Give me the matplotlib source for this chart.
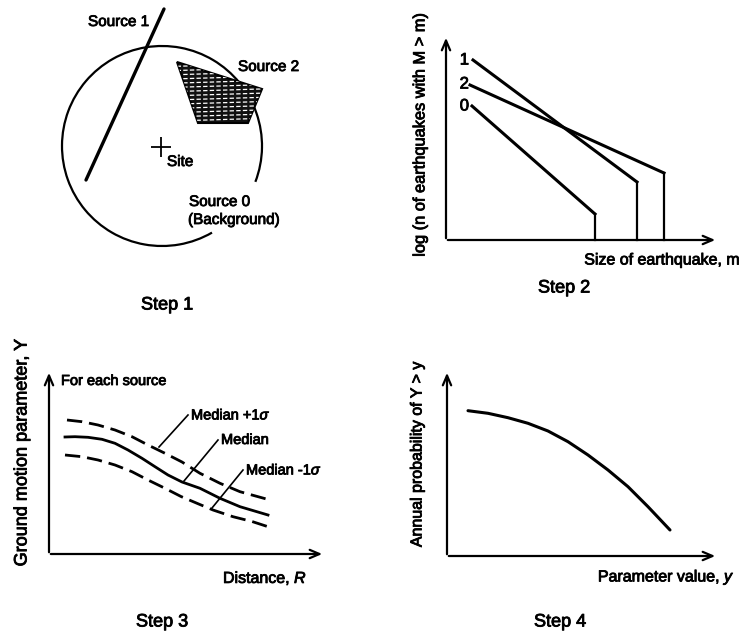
import numpy as np
import matplotlib
matplotlib.use("Agg")
import matplotlib.pyplot as plt
import matplotlib.patheffects as pe
from matplotlib.patches import Arc, Polygon

plt.rcParams['font.family'] = 'Liberation Sans'
plt.rcParams['mathtext.fontset'] = 'custom'
plt.rcParams['mathtext.it'] = 'Liberation Sans:italic'
plt.rcParams['mathtext.rm'] = 'Liberation Sans'

# ---- step 1: sources around the site (picture coordinates) ----
circle_center = (162, 146)
circle_radius = 100
circle_gap = (21, 60)          # degrees, open arc behind the "Source 0" label
source1_x = [164, 86]
source1_y = [9, 180]
source2_x = [177, 262, 248, 198]
source2_y = [62, 89, 123, 123]
site_xy = (161, 147)

# ---- step 2: recurrence lines for each source ----
rec_labels = ['1', '2', '0']
rec_x = [[473, 637, 637], [470, 664, 664], [472, 595, 595]]
rec_y = [[60, 182, 240], [85, 173, 240], [106, 214, 240]]
rec_label_y = [60, 84, 106]

# ---- step 3: attenuation relation ----
med_x = [65, 75, 88, 102, 115, 128, 142, 155, 168, 182, 200, 220, 240, 268]
med_y = [437, 436.7, 437.3, 439.3, 443.3, 450, 458.3, 466.7, 475, 482, 488.3, 498.3, 506.7, 515]
up_x = [67, 82, 98, 115, 132, 148, 165, 182, 200, 220, 240, 270]
up_y = [420, 421.7, 425, 430, 436.7, 445, 453.3, 462, 473.3, 483.3, 491.7, 500]
lo_x = [65, 82, 98, 115, 132, 148, 165, 181, 197, 213, 233, 252, 272]
lo_y = [455, 456.7, 460, 465, 471.7, 480, 488.3, 496.5, 503.3, 510, 516.7, 521.5, 528]
lead_labels = [r'Median +1$\sigma$', 'Median', r'Median -1$\sigma$']
lead_x = [[159, 188], [184, 218], [212, 243]]
lead_y = [[447, 415], [481, 440], [508, 470]]

# ---- step 4: hazard curve ----
haz_x = [468, 488, 508, 528, 548, 568, 588, 608, 628, 648, 670]
haz_y = [410.7, 413.3, 417.7, 423.3, 431, 441.7, 455, 470, 486.7, 506.7, 530]

fig = plt.figure(figsize=(7.41, 6.34), dpi=100)
ax = fig.add_axes([0, 0, 1, 1])
ax.set_xlim(0, 741)
ax.set_ylim(634, 0)
ax.axis('off')

k = 'black'
heavy = [pe.withStroke(linewidth=0.6, foreground='black')]


def label(x, y, s, size=11, **kw):
    kw.setdefault('va', 'center')
    kw.setdefault('ha', 'left')
    ax.text(x, y, s, fontsize=size, path_effects=heavy, **kw)


def axis_arrows(x0, y0, ytop, xright):
    style = '->,head_length=0.7,head_width=0.3'
    ax.annotate('', xy=(x0, ytop), xytext=(x0, y0 + 1),
                arrowprops=dict(arrowstyle=style, color=k, lw=1.6))
    ax.annotate('', xy=(xright, y0), xytext=(x0 - 1, y0),
                arrowprops=dict(arrowstyle=style, color=k, lw=1.6))


# step 1
ax.add_patch(Arc(circle_center, 2 * circle_radius, 2 * circle_radius,
                 theta1=circle_gap[1], theta2=circle_gap[0] + 360, color=k, lw=1.6))
ax.plot(source1_x, source1_y, color=k, lw=2.4, solid_capstyle='round')
poly = Polygon(list(zip(source2_x, source2_y)), closed=True,
               facecolor='#111111', edgecolor=k, lw=1.5)
ax.add_patch(poly)
for yy in np.arange(min(source2_y) + 3, max(source2_y), 4.2):
    ln, = ax.plot([170, 270], [yy + 1.5, yy - 1.5], color='white', lw=0.9,
                  dashes=(3.5, 1.8), dash_capstyle='butt')
    ln.set_clip_path(poly)
ax.plot(*site_xy, marker='+', ms=15, mew=1.3, color=k)
label(88, 22, 'Source 1')
label(238, 67, 'Source 2')
label(167, 162, 'Site')
label(189, 202, 'Source 0')
label(188, 220, '(Background)')
label(167, 305, 'Step 1', 13, ha='center')

# step 2
axis_arrows(446, 240, 35, 718)
for lab, xs, ys, ly in zip(rec_labels, rec_x, rec_y, rec_label_y):
    ax.plot(xs[:2], ys[:2], color=k, lw=2.2)
    ax.plot(xs[1:], ys[1:], color=k, lw=1.6)
    label(469, ly, lab, 12, ha='right')
label(420, 135, 'log (n of earthquakes with M > m)', 11.8, rotation=90, ha='center')
label(740, 260, 'Size of earthquake, m', 11.5, ha='right')
label(564, 288, 'Step 2', 13, ha='center')

# step 3
axis_arrows(49, 554, 370, 325)
ax.plot(med_x, med_y, color=k, lw=2.0)
ax.plot(up_x, up_y, color=k, lw=2.0, dashes=(5.5, 2.5))
ax.plot(lo_x, lo_y, color=k, lw=2.0, dashes=(5.5, 2.5))
for lab, xs, ys in zip(lead_labels, lead_x, lead_y):
    ax.plot(xs, ys, color=k, lw=1.2)
    label(xs[1] + 3, ys[1], lab, 10.5)
label(61, 381, 'For each source', 10.5)
label(22, 453, 'Ground motion parameter, Y', 13, rotation=90, ha='center')
label(223, 578, 'Distance, $R$', 11.5)
label(162, 622, 'Step 3', 13, ha='center')

# step 4
axis_arrows(447, 556, 370, 718)
ax.plot(haz_x, haz_y, color=k, lw=2.2, solid_capstyle='round')
label(417, 454, 'Annual probability of Y > y', 11.5, rotation=90, ha='center')
label(735, 577, 'Parameter value, $y$', 11.5, ha='right')
label(560, 622, 'Step 4', 13, ha='center')

fig.savefig('out.png', dpi=100)
